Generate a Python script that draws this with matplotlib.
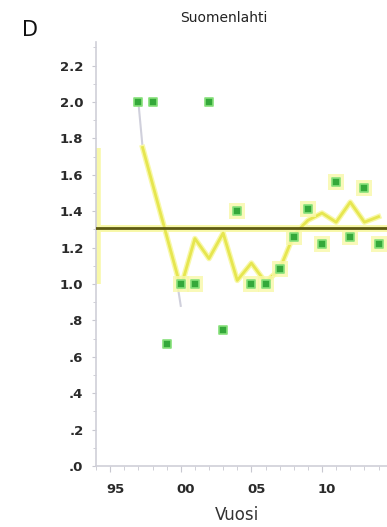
import numpy as np
import matplotlib
matplotlib.use('Agg')
import matplotlib.pyplot as plt
from matplotlib.ticker import MultipleLocator, FuncFormatter
from matplotlib.transforms import ScaledTranslation

# observed values (green squares)
years = [1997, 1998, 1999, 2000, 2001, 2002, 2003, 2004, 2005, 2006,
         2007, 2008, 2009, 2010, 2011, 2012, 2013, 2014]
values = [2.0, 2.0, 0.67, 1.0, 1.0, 2.0, 0.75, 1.4, 1.0, 1.0,
          1.08, 1.26, 1.41, 1.22, 1.56, 1.26, 1.53, 1.22]
# points with yellow highlight around them
halo_years = [2000, 2001, 2004, 2005, 2006, 2007, 2008, 2009, 2010, 2011, 2012, 2013, 2014]

# grey trend at start
grey_x = [1997, 1997.3, 1999.6, 2000]
grey_y = [2.0, 1.75, 1.08, 0.88]
# yellow smoothed line
smooth_x = [1997.3, 2000, 2001, 2002, 2003, 2004, 2005, 2006, 2007,
            2008, 2009, 2010, 2011, 2012, 2013, 2014]
smooth_y = [1.75, 0.98, 1.25, 1.14, 1.28, 1.02, 1.115, 1.01, 1.08,
            1.27, 1.35, 1.39, 1.34, 1.45, 1.34, 1.37]
mean_level = 1.31

fig = plt.figure(figsize=(3.87, 5.27), dpi=100)
ax = fig.add_axes([96/387, 1-466/527, 1-96/387, (466-42)/527])

yellow = '#e6e650'
halo = '#f8f8a8'

# yellow band on the y axis
ax.plot([1994.15, 1994.15], [1.0, 1.75], color=halo, lw=4, solid_capstyle='butt', zorder=2)

# mean line with halo
ax.axhline(mean_level, color=halo, lw=5, zorder=2)
ax.axhline(mean_level, color='#5e5a12', lw=2.0, zorder=4)

ax.plot(grey_x, grey_y, color='#d0d0dc', lw=1.5, zorder=3)
ax.plot(smooth_x, smooth_y, color=halo, lw=4, zorder=3)
ax.plot(smooth_x, smooth_y, color=yellow, lw=2.0, zorder=3)

hy = [v for y, v in zip(years, values) if y in halo_years]
ax.scatter(halo_years, hy, marker='s', s=130, color=halo, alpha=0.8, lw=0, zorder=3)
ax.scatter(years, values, marker='s', s=32, color='#34a83a',
           edgecolor='#86e07a', linewidth=1.2, zorder=5)

ax.set_xlim(1994, 2014.6)
ax.set_ylim(0, 2.33)

for s in ['top', 'right']:
    ax.spines[s].set_visible(False)
for s in ['left', 'bottom']:
    ax.spines[s].set_color('#cfcfd8')
    ax.spines[s].set_linewidth(1.2)

ax.xaxis.set_major_locator(MultipleLocator(5))
ax.xaxis.set_minor_locator(MultipleLocator(1))
ax.yaxis.set_major_locator(MultipleLocator(0.2))
ax.yaxis.set_minor_locator(MultipleLocator(0.1))
ax.xaxis.set_major_formatter(FuncFormatter(lambda v, p: '%02d' % (int(round(v)) % 100)))
ax.yaxis.set_major_formatter(FuncFormatter(lambda v, p: ('%.1f' % v).lstrip('0') if v < 1 else '%.1f' % v))
ax.set_xticks([1995, 2000, 2005, 2010])

ax.tick_params(axis='both', which='both', colors='#c8c8d0', labelcolor='#2a2a2a', labelsize=9.5)
ax.tick_params(axis='x', which='major', length=4, pad=8)
ax.tick_params(axis='x', which='minor', length=3)
ax.tick_params(axis='y', which='major', length=3, pad=6)
ax.tick_params(axis='y', which='minor', length=2)

off = ScaledTranslation(5/100, 0, fig.dpi_scale_trans)
for lab in ax.get_xticklabels():
    lab.set_transform(lab.get_transform() + off)
    lab.set_fontweight('semibold')
for lab in ax.get_yticklabels():
    lab.set_fontweight('semibold')

fig.text(224/387, 1-18/527, 'Suomenlahti', ha='center', va='center', fontsize=10, color='#222222')
fig.text(30/387, 1-30/527, 'D', ha='center', va='center', fontsize=15, color='#111111')
fig.text(237/387, 1-515/527, 'Vuosi', ha='center', va='center', fontsize=12, color='#333333')

fig.savefig('out.png', dpi=100)
